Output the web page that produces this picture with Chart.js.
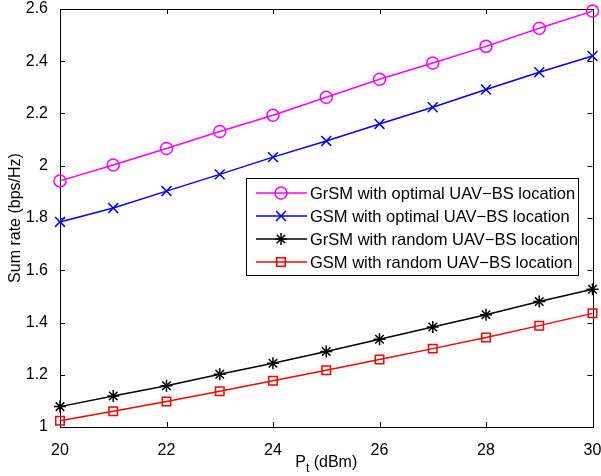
<!DOCTYPE html>
<html>
<head>
<meta charset="utf-8">
<script src="https://cdn.jsdelivr.net/npm/chart.js@4/dist/chart.umd.min.js"></script>
<style>
  body { margin: 0; background: #fff; }
  #wrap { width: 601px; height: 476px; }
</style>
</head>
<body>
<div id="wrap"><canvas id="rateChart" width="601" height="476"></canvas></div>
<script>
    // Transmit power (dBm)
    const powerLevels = [20, 21, 22, 23, 24, 25, 26, 27, 28, 29, 30];

    // Sum rate (bps/Hz)
    const grsmOptimal = [1.942, 2.003, 2.066, 2.131, 2.193, 2.262, 2.331, 2.393, 2.457, 2.526, 2.592];
    const gsmOptimal  = [1.785, 1.838, 1.903, 1.967, 2.033, 2.095, 2.160, 2.224, 2.292, 2.358, 2.420];
    const grsmRandom  = [1.078, 1.119, 1.158, 1.202, 1.244, 1.289, 1.336, 1.383, 1.430, 1.480, 1.527];
    const gsmRandom   = [1.024, 1.060, 1.098, 1.137, 1.177, 1.217, 1.258, 1.300, 1.343, 1.388, 1.435];

    const seriesLabels = [
        'GrSM with optimal UAV\u2212BS location',
        'GSM with optimal UAV\u2212BS location',
        'GrSM with random UAV\u2212BS location',
        'GSM with random UAV\u2212BS location'
    ];

    const xTicks = [20, 22, 24, 26, 28, 30];
    const yTicks = [1, 1.2, 1.4, 1.6, 1.8, 2, 2.2, 2.4, 2.6];

    const FONT = "'Liberation Sans', Arial, Helvetica, sans-serif";

    // Helper to turn arrays into {x, y} points
    function toPoints(values) {
        return values.map((v, i) => ({ x: powerLevels[i], y: v }));
    }

    // MATLAB-style box with inward ticks, plus axis titles and legend
    const frameAndTitles = {
        id: 'frameAndTitles',
        beforeDatasetsDraw(chart) {
            const { ctx, chartArea: a, scales } = chart;
            ctx.save();
            ctx.strokeStyle = '#000';
            ctx.lineWidth = 1;
            ctx.strokeRect(Math.round(a.left) + 0.5, Math.round(a.top) + 0.5,
                Math.round(a.right - a.left), Math.round(a.bottom - a.top));
            ctx.beginPath();
            xTicks.forEach(t => {
                const px = Math.round(scales.x.getPixelForValue(t)) + 0.5;
                ctx.moveTo(px, a.bottom); ctx.lineTo(px, a.bottom - 5);
                ctx.moveTo(px, a.top); ctx.lineTo(px, a.top + 5);
            });
            yTicks.forEach(t => {
                const py = Math.round(scales.y.getPixelForValue(t)) + 0.5;
                ctx.moveTo(a.left, py); ctx.lineTo(a.left + 5, py);
                ctx.moveTo(a.right, py); ctx.lineTo(a.right - 5, py);
            });
            ctx.stroke();
            ctx.restore();
        },
        afterDraw(chart) {
            const { ctx, chartArea: a } = chart;
            ctx.save();
            ctx.fillStyle = '#000';
            // y title
            ctx.font = '16px ' + FONT;
            ctx.textAlign = 'center';
            ctx.textBaseline = 'middle';
            ctx.translate(16, (a.top + a.bottom) / 2);
            ctx.rotate(-Math.PI / 2);
            ctx.fillText('Sum rate (bps/Hz)', 0, 0);
            ctx.restore();

            // x title with subscript
            ctx.save();
            ctx.fillStyle = '#000';
            ctx.textBaseline = 'alphabetic';
            ctx.textAlign = 'left';
            const cx = (a.left + a.right) / 2;
            ctx.font = '16px ' + FONT;
            const wP = ctx.measureText('P').width;
            const wRest = ctx.measureText(' (dBm)').width;
            ctx.font = '12px ' + FONT;
            const wT = ctx.measureText('t').width;
            let x0 = cx - (wP + wT + wRest) / 2;
            const base = 467;
            ctx.font = '16px ' + FONT;
            ctx.fillText('P', x0, base);
            ctx.font = '12px ' + FONT;
            ctx.fillText('t', x0 + wP, base + 5);
            ctx.font = '16px ' + FONT;
            ctx.fillText(' (dBm)', x0 + wP + wT, base);
            ctx.restore();

            // legend box inside the plot
            const box = { left: 246, top: 178, right: 578, bottom: 275 };
            ctx.save();
            ctx.fillStyle = '#fff';
            ctx.fillRect(box.left, box.top, box.right - box.left, box.bottom - box.top);
            ctx.strokeStyle = '#000';
            ctx.lineWidth = 1;
            ctx.strokeRect(box.left + 0.5, box.top + 0.5, box.right - box.left, box.bottom - box.top);
            ctx.textBaseline = 'middle';
            ctx.textAlign = 'left';
            chart.data.datasets.forEach((ds, i) => {
                const y = 193 + i * 23;
                ctx.strokeStyle = ds.borderColor;
                ctx.lineWidth = ds.borderWidth;
                ctx.beginPath();
                ctx.moveTo(256, y); ctx.lineTo(307, y);
                ctx.stroke();
                ctx.fillStyle = 'rgba(0,0,0,0)';
                Chart.helpers.drawPoint(ctx, {
                    pointStyle: ds.pointStyle,
                    radius: ds.pointRadius,
                    rotation: 0,
                    borderWidth: ds.pointBorderWidth
                }, 281, y);
                ctx.fillStyle = '#000';
                ctx.font = '16.5px ' + FONT;
                ctx.fillText(ds.label, 310, y + 1);
            });
            ctx.restore();
        }
    };

    function makeSet(label, values, color, style, radius) {
        return {
            label: label,
            data: toPoints(values),
            borderColor: color,
            backgroundColor: 'rgba(0,0,0,0)',
            pointBorderColor: color,
            pointBackgroundColor: 'rgba(0,0,0,0)',
            borderWidth: 1.5,
            pointBorderWidth: 1.5,
            pointStyle: style,
            pointRadius: radius,
            tension: 0,
            clip: false
        };
    }

    function noPad(s) {
        s.paddingLeft = 0; s.paddingRight = 0;
        s.paddingTop = 0; s.paddingBottom = 0;
    }

    const ctx = document.getElementById('rateChart').getContext('2d');
    new Chart(ctx, {
        type: 'line',
        data: {
            datasets: [
                makeSet(seriesLabels[0], grsmOptimal, '#ff00ff', 'circle', 6),
                makeSet(seriesLabels[1], gsmOptimal, '#0000ff', 'crossRot', 7),
                makeSet(seriesLabels[2], grsmRandom, '#000000', 'star', 6),
                makeSet(seriesLabels[3], gsmRandom, '#ff0000', 'rect', 6)
            ]
        },
        options: {
            responsive: false,
            animation: false,
            layout: { padding: { top: 9, right: 8, left: 0, bottom: 0 } },
            plugins: {
                legend: { display: false },
                tooltip: { enabled: false }
            },
            scales: {
                x: {
                    type: 'linear',
                    min: 20,
                    max: 30,
                    afterBuildTicks: s => { s.ticks = xTicks.map(v => ({ value: v })); },
                    afterFit: s => { s.height = 49; noPad(s); },
                    grid: { display: false },
                    border: { display: false },
                    ticks: { color: '#000', font: { family: FONT, size: 16 }, padding: 6, maxRotation: 0 }
                },
                y: {
                    min: 1,
                    max: 2.6,
                    afterBuildTicks: s => { s.ticks = yTicks.map(v => ({ value: v })); },
                    afterFit: s => { s.width = 60; noPad(s); },
                    grid: { display: false },
                    border: { display: false },
                    ticks: {
                        color: '#000',
                        font: { family: FONT, size: 16 },
                        padding: 4,
                        callback: v => String(v)
                    }
                }
            }
        },
        plugins: [frameAndTitles]
    });
</script>
</body>
</html>
